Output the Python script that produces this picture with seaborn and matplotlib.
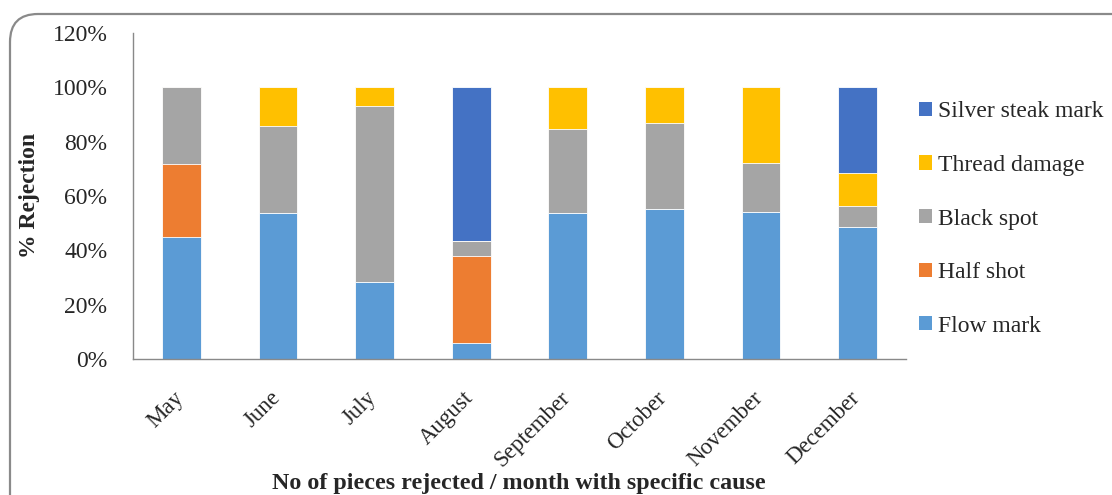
import matplotlib
matplotlib.use("Agg")
import matplotlib.pyplot as plt
from matplotlib.patches import FancyBboxPatch, Patch
from matplotlib.transforms import ScaledTranslation
import numpy as np
import pandas as pd
import seaborn as sns

months = ["May", "June", "July", "August", "September", "October", "November", "December"]
flow_mark = [44.9, 53.7, 28.4, 6.0, 53.7, 55.1, 54.1, 48.6]
half_shot = [26.7, 0.0, 0.0, 31.8, 0.0, 0.0, 0.0, 0.0]
black_spot = [28.4, 32.1, 64.6, 5.8, 31.1, 31.9, 17.9, 7.9]
thread_damage = [0.0, 14.2, 7.0, 0.0, 15.2, 13.0, 28.0, 12.1]
silver_steak_mark = [0.0, 0.0, 0.0, 56.4, 0.0, 0.0, 0.0, 31.4]

series_names = ["Flow mark", "Half shot", "Black spot", "Thread damage", "Silver steak mark"]
series_values = [flow_mark, half_shot, black_spot, thread_damage, silver_steak_mark]
series_colors = ["#5B9BD5", "#ED7D31", "#A5A5A5", "#FFC000", "#4472C4"]
y_ticks = [0, 20, 40, 60, 80, 100, 120]
y_tick_labels = ["0%", "20%", "40%", "60%", "80%", "100%", "120%"]

sns.set_style("white")
plt.rcParams["font.family"] = ["Liberation Serif", "DejaVu Serif"]

W, H = 1112, 495
fig = plt.figure(figsize=(W / 100, H / 100), dpi=100)
ax = fig.add_axes([133 / W, 1 - 359 / H, (906 - 133) / W, (359 - 33) / H])

df = pd.DataFrame({"month": months})
cum = np.zeros(len(months))
cums = []
for vals in series_values:
    cum = cum + np.array(vals)
    cums.append(cum.copy())
for name, c, col in reversed(list(zip(series_names, cums, series_colors))):
    df[name] = c
    sns.barplot(data=df, x="month", y=name, order=months, color=col, width=0.4,
                edgecolor="white", linewidth=0.6, saturation=1, ax=ax, zorder=2)

ax.set_ylim(0, 120)
ax.set_xlim(-0.5, len(months) - 0.5)
ax.set_yticks(y_ticks)
ax.set_yticklabels(y_tick_labels, fontsize=17)
ax.set_xticks(range(len(months)))
ax.set_xticks(np.arange(-0.5, len(months), 1.0), minor=True)
ax.tick_params(axis="x", which="major", length=0, pad=0)
ax.tick_params(axis="x", which="minor", length=7, width=1, color="#898989", direction="out")
ax.tick_params(axis="y", which="major", length=7, width=1, color="#898989", direction="out", pad=11.5)
ax.set_xticklabels(months, fontsize=16.5, rotation=45, ha="right", va="center",
                   rotation_mode="anchor")
offset = ScaledTranslation(-1 / 100, -36 / 100, fig.dpi_scale_trans)
for lab in ax.get_xticklabels():
    lab.set_transform(lab.get_transform() + offset)
ax.set_xlabel("")
ax.set_ylabel("")
for s in ["top", "right"]:
    ax.spines[s].set_visible(False)
for s in ["left", "bottom"]:
    ax.spines[s].set_color("#898989")
    ax.spines[s].set_linewidth(1)

fig.text(519 / W, 1 - 484 / H, "No of pieces rejected / month with specific cause",
         ha="center", va="center", fontsize=17.3, fontweight="bold")
fig.text(30 / W, 1 - 195 / H, "% Rejection", ha="center", va="center",
         rotation=90, fontsize=17, fontweight="bold")

handles = [Patch(facecolor=c, edgecolor="none", label=n)
           for n, c in zip(series_names, series_colors)][::-1]
fig.legend(handles=handles, loc="center left", bbox_to_anchor=(919 / W, 1 - 219 / H),
           frameon=False, fontsize=17, handlelength=0.55, handleheight=0.55,
           handletextpad=0.25, labelspacing=1.38, borderpad=0, borderaxespad=0)

border = FancyBboxPatch((0.10, -0.3), 11.4, 4.81 + 0.3, boxstyle="round,pad=0,rounding_size=0.28",
                        transform=fig.dpi_scale_trans, facecolor="none",
                        edgecolor="#8a8a8a", linewidth=1.6, zorder=0)
fig.patches.append(border)

fig.savefig("out.png", dpi=100)
